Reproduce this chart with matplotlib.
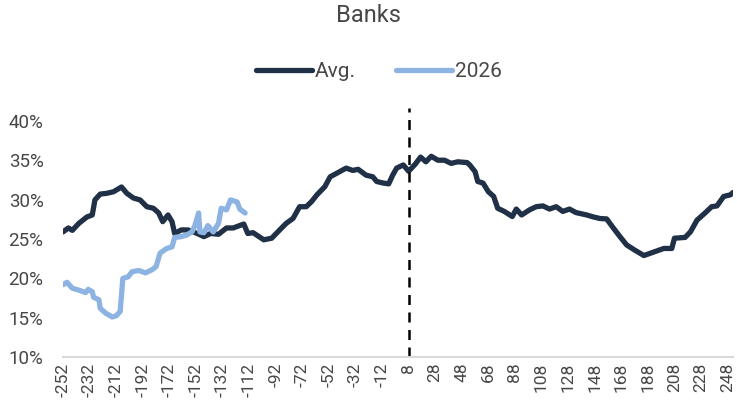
import numpy as np
import matplotlib.pyplot as plt

plt.rcParams['font.family'] = ['Roboto', 'DejaVu Sans']

# days relative to event, and value (%)
avg_days = [-252, -248, -245, -240, -234, -230, -228, -224, -219, -214, -208, -204,
            -199, -194, -189, -184, -180, -177, -173, -170, -168, -163, -158, -151,
            -146, -141, -135, -129, -124, -116, -113, -109, -101, -95, -89, -84,
            -79, -74, -69, -65, -61, -55, -51, -46, -39, -34, -30, -24, -19, -16,
            -11, -7, -4, -1, 4, 8, 13, 17, 21, 25, 30, 35, 40, 45, 52, 54, 58, 60,
            64, 68, 72, 75, 80, 86, 89, 93, 99, 104, 109, 114, 119, 124, 129, 134,
            142, 147, 152, 157, 162, 167, 172, 178, 185, 190, 195, 200, 206, 208,
            216, 220, 225, 231, 236, 240, 245, 250, 252]
avg_vals = [25.9, 26.4, 26.1, 27.0, 27.8, 28.05, 29.96, 30.7, 30.8, 31.0, 31.6, 30.8,
            30.2, 29.96, 29.1, 28.9, 28.3, 27.2, 28.05, 27.2, 25.7, 26.15, 26.15, 25.7,
            25.3, 25.7, 25.6, 26.4, 26.4, 26.9, 25.7, 25.8, 24.9, 25.1, 26.15, 27.0,
            27.6, 29.1, 29.1, 29.75, 30.6, 31.65, 32.9, 33.35, 34.0, 33.7, 33.85, 33.1,
            32.9, 32.3, 32.1, 32.0, 33.1, 34.0, 34.4, 33.6, 34.5, 35.4, 34.8, 35.5,
            35.0, 35.0, 34.6, 34.8, 34.7, 34.4, 33.55, 32.3, 32.1, 31.0, 30.4, 28.9,
            28.5, 27.85, 28.8, 28.05, 28.7, 29.1, 29.2, 28.8, 29.1, 28.5, 28.8, 28.35,
            28.05, 27.8, 27.6, 27.55, 26.4, 25.3, 24.25, 23.6, 22.9, 23.2, 23.5, 23.8,
            23.8, 25.1, 25.2, 25.9, 27.4, 28.3, 29.1, 29.2, 30.4, 30.6, 30.9]

y2026_days = [-252, -249, -245, -240, -235, -233, -230, -229, -225, -224, -220, -215,
              -212, -209, -207, -203, -200, -195, -190, -185, -182, -179, -174, -170,
              -168, -163, -159, -155, -153, -150, -149, -146, -143, -139, -135, -133,
              -129, -126, -121, -119, -115]
y2026_vals = [19.2, 19.5, 18.75, 18.5, 18.2, 18.6, 18.3, 17.6, 17.3, 16.2, 15.6, 15.1,
              15.25, 15.8, 20.0, 20.2, 20.85, 21.0, 20.7, 21.1, 21.5, 23.2, 23.8, 24.0,
              25.2, 25.3, 25.5, 25.9, 26.6, 28.3, 25.9, 25.8, 26.7, 25.9, 27.0, 28.9,
              28.7, 29.96, 29.7, 28.8, 28.3]

tick_days = list(range(-252, 249, 20))
y_ticks = [10, 15, 20, 25, 30, 35, 40]
event_day = 8
marker_top = 41.6

navy = "#1f3047"
light_blue = "#8db3e2"
text_col = "#474747"

fig = plt.figure(figsize=(7.37, 4.11), dpi=100)
ax = fig.add_axes([0.0855, 0.131, 0.909, 0.575])

ax.plot(avg_days, avg_vals, color=navy, lw=3.8, label="Avg.", solid_capstyle="round")
ax.plot(y2026_days, y2026_vals, color=light_blue, lw=3.8, label="2026", solid_capstyle="round")
ax.plot([event_day, event_day], [10, marker_top], color="black", lw=1.8,
        linestyle=(0, (4, 3)), clip_on=False)

ax.set_xlim(-252, 252)
ax.set_ylim(10, 40)
ax.set_xticks(tick_days)
ax.set_xticklabels([str(d) for d in tick_days], rotation=90)
ax.set_yticks(y_ticks)
ax.set_yticklabels([f"{v}%" for v in y_ticks])
ax.tick_params(axis="both", length=0, colors=text_col)
ax.tick_params(axis="y", labelsize=13.5, pad=14)
ax.tick_params(axis="x", labelsize=12.5, pad=4)

for side in ["top", "right", "left"]:
    ax.spines[side].set_visible(False)
ax.spines["bottom"].set_color("#d9d9d9")
ax.spines["bottom"].set_linewidth(1.5)

fig.text(0.5, 0.963, "Banks", ha="center", va="center", fontsize=17, color=text_col)
fig.legend(loc="center", bbox_to_anchor=(0.514, 0.825), ncol=2, frameon=False,
           fontsize=15, handlelength=2.7, columnspacing=1.9, handletextpad=0.15,
           labelcolor=text_col)

fig.savefig("out.png", dpi=100)
